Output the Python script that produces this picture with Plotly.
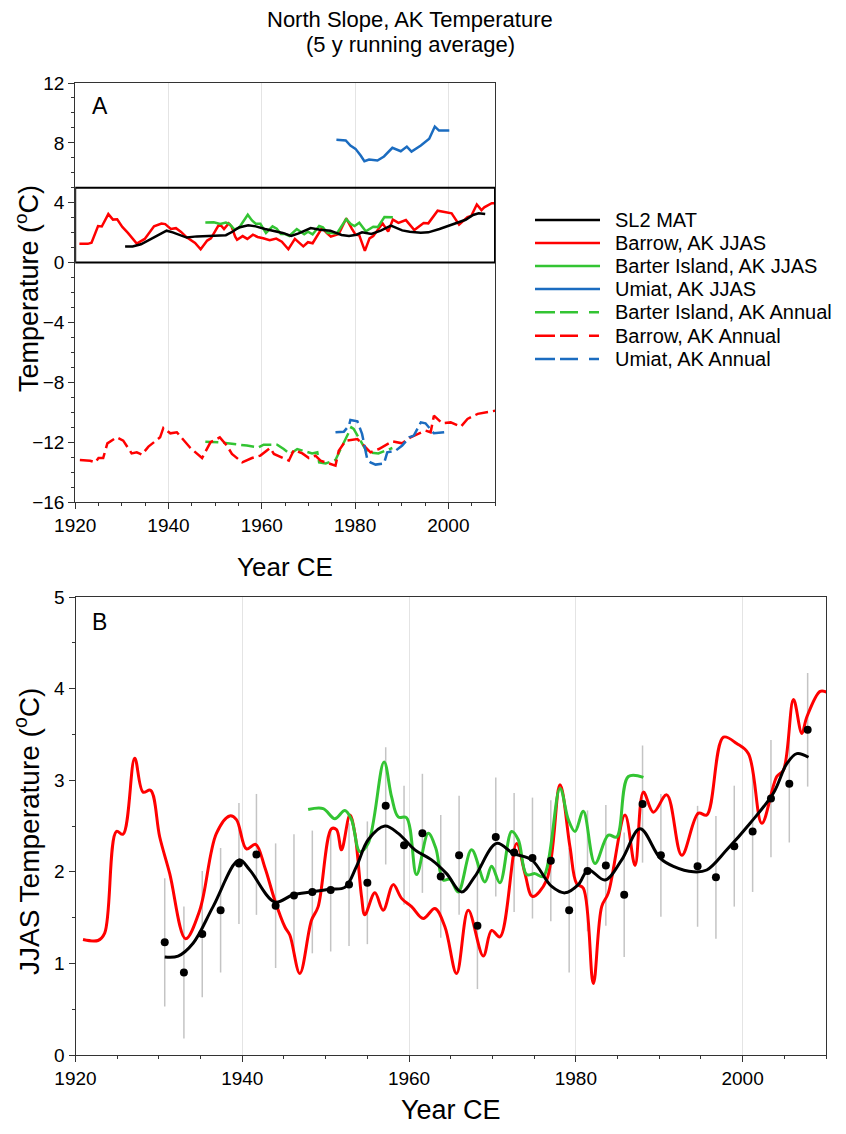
import plotly.graph_objects as go

# ---------------- data ----------------
barrow_jjas_year = [1920.9, 1922.7, 1923.5, 1924.9, 1925.7, 1927.1, 1928.1, 1929.0, 1930.1, 1931.3,
                    1933.2, 1934.9, 1936.9, 1938.5, 1939.3, 1940.5, 1941.6, 1942.7, 1943.9, 1945.1,
                    1945.7, 1946.9, 1948.3, 1949.1, 1950.7, 1951.3, 1951.9, 1952.9, 1953.5, 1954.3,
                    1954.7, 1955.9, 1956.9, 1958.1, 1959.1, 1960.3, 1961.7, 1963.1, 1964.3, 1965.7,
                    1967.1, 1968.9, 1969.9, 1970.9, 1972.9, 1973.9, 1974.8, 1976.5, 1978.1, 1979.3,
                    1980.1, 1980.9, 1982.1, 1983.1, 1983.9, 1985.9, 1987.1, 1988.1, 1989.3, 1990.9,
                    1992.7, 1994.7, 1995.7, 1997.7, 1999.3, 2000.7, 2002.3, 2004.1, 2004.9, 2006.1,
                    2007.1, 2007.7, 2009.3, 2010.1]
barrow_jjas_temp = [1.26, 1.25, 1.33, 2.44, 2.41, 3.24, 2.87, 2.89, 2.38, 1.98,
                    1.27, 1.58, 2.42, 2.61, 2.57, 2.25, 2.30, 2.05, 1.69, 1.40,
                    1.31, 0.89, 1.47, 1.62, 2.47, 2.46, 2.24, 2.62, 2.42, 1.73,
                    1.53, 1.77, 1.58, 1.86, 1.71, 1.62, 1.49, 1.60, 1.40, 0.89,
                    1.58, 1.08, 1.36, 1.29, 2.31, 1.98, 1.73, 1.91, 2.95, 2.27,
                    1.87, 1.82, 0.78, 1.62, 1.77, 2.62, 2.07, 2.87, 2.65, 2.84,
                    2.18, 2.64, 2.62, 3.47, 3.40, 3.29, 2.53, 3.04, 3.11, 3.88,
                    3.51, 3.69, 3.97, 3.96]

barter_jjas_year = [1947.9, 1949.7, 1951.1, 1952.3, 1953.1, 1954.1, 1955.1, 1957.0, 1957.9, 1958.7,
                    1959.7, 1960.9, 1962.3, 1963.2, 1964.1, 1964.9, 1965.9, 1967.5, 1969.1, 1969.9,
                    1970.9, 1972.3, 1973.1, 1974.1, 1975.1, 1976.1, 1978.1, 1979.1, 1979.9, 1980.9,
                    1982.3, 1983.9, 1984.9, 1986.3, 1988.1]
barter_jjas_temp = [2.68, 2.69, 2.58, 2.67, 2.57, 2.22, 2.31, 3.20, 2.82, 2.60,
                    2.59, 1.97, 2.42, 2.26, 1.91, 1.92, 1.78, 2.24, 1.89, 2.06,
                    1.88, 2.44, 2.35, 1.97, 1.98, 1.95, 2.91, 2.57, 2.44, 2.66,
                    2.09, 2.40, 2.38, 3.04, 3.03]

umiat_jjas_year = [1976.0, 1978.0, 1979.0, 1980.1, 1981.2, 1982.0, 1983.0, 1984.8, 1986.2, 1988.0,
                   1989.8, 1991.1, 1992.1, 1994.1, 1995.9, 1997.1, 1998.0, 2000.2]
umiat_jjas_temp = [8.20, 8.16, 7.82, 7.60, 7.15, 6.77, 6.89, 6.82, 7.09, 7.67,
                   7.44, 7.75, 7.42, 7.82, 8.27, 9.09, 8.82, 8.82]

sl2_mat_year = [1930.7, 1932.3, 1934.1, 1936.5, 1939.6, 1940.9, 1943.9, 1946.1, 1948.3, 1950.5,
                1952.3, 1953.7, 1955.1, 1957.1, 1958.7, 1960.7, 1962.7, 1964.5, 1966.3, 1967.9,
                1970.5, 1972.5, 1974.7, 1977.1, 1978.7, 1980.3, 1981.5, 1983.5, 1985.5, 1987.7,
                1990.1, 1991.7, 1994.1, 1995.7, 1998.1, 2000.9, 2003.7, 2005.3, 2006.5, 2007.9]
sl2_mat_temp = [1.07, 1.08, 1.22, 1.62, 2.13, 2.02, 1.67, 1.75, 1.78, 1.81,
                1.83, 2.06, 2.35, 2.50, 2.42, 2.24, 2.13, 1.98, 1.78, 1.95,
                2.31, 2.20, 2.13, 1.84, 1.77, 1.86, 2.02, 1.91, 2.13, 2.47,
                2.15, 2.06, 2.00, 2.02, 2.24, 2.53, 2.86, 3.18, 3.29, 3.25]

sl2_pts_year = [1930.7, 1933.0, 1935.2, 1937.4, 1939.6, 1941.7, 1944.0, 1946.2, 1948.4, 1950.6,
                1952.8, 1955.0, 1957.2, 1959.4, 1961.6, 1963.8, 1966.0, 1968.2, 1970.4, 1972.6,
                1974.8, 1977.0, 1979.2, 1981.4, 1983.6, 1985.8, 1988.0, 1990.2, 1994.6, 1996.8,
                1999.0, 2001.2, 2003.4, 2005.6, 2007.8]
sl2_pts_temp = [1.23, 0.90, 1.32, 1.58, 2.09, 2.19, 1.63, 1.74, 1.78, 1.80,
                1.86, 1.88, 2.72, 2.29, 2.42, 1.95, 2.18, 1.41, 2.38, 2.21,
                2.15, 2.12, 1.58, 2.01, 2.07, 1.75, 2.74, 2.18, 2.06, 1.94,
                2.28, 2.44, 2.80, 2.96, 3.55]
sl2_pts_err = [0.70, 0.72, 0.69, 0.68, 0.66, 0.66, 0.68, 0.67, 0.67, 0.67,
               0.67, 0.67, 0.64, 0.65, 0.65, 0.67, 0.65, 0.69, 0.65, 0.65,
               0.66, 0.66, 0.68, 0.66, 0.66, 0.68, 0.64, 0.67, 0.66, 0.67,
               0.66, 0.66, 0.64, 0.64, 0.62]

barrow_ann_year = [1921.0, 1923.2, 1924.3, 1925.0, 1926.0, 1926.9, 1928.9, 1930.3, 1932.1, 1933.2,
                   1934.3, 1935.7, 1938.2, 1938.9, 1940.4, 1941.8, 1944.7, 1947.2, 1949.0, 1951.0,
                   1952.5, 1953.6, 1955.8, 1957.9, 1959.7, 1961.8, 1962.6, 1965.8, 1966.9, 1968.7,
                   1970.1, 1971.5, 1972.6, 1975.8, 1976.5, 1978.0, 1980.5, 1982.3, 1983.3, 1985.1,
                   1988.0, 1990.1, 1991.9, 1993.4, 1995.1, 1996.2, 1996.9, 1998.7, 2000.5, 2002.7,
                   2004.1, 2006.3, 2009.1, 2010.2]
barrow_ann_temp = [-13.19, -13.24, -13.35, -13.06, -13.06, -12.08, -11.68, -11.90, -12.75, -12.68,
                   -12.83, -12.30, -11.68, -11.05, -11.41, -11.34, -12.39, -13.06, -12.01, -11.68,
                   -12.23, -12.79, -13.35, -13.06, -12.90, -12.39, -12.79, -13.24, -12.52, -12.75,
                   -13.06, -12.90, -13.24, -13.57, -12.57, -11.90, -11.79, -12.35, -12.68, -12.46,
                   -11.95, -12.08, -11.68, -11.46, -11.23, -11.34, -10.23, -10.74, -10.68, -10.96,
                   -10.45, -10.11, -9.94, -9.89]

barter_ann_year = [1947.9, 1950.7, 1956.8, 1959.3, 1960.4, 1963.3, 1964.7, 1966.1, 1967.6, 1970.8,
                   1971.9, 1972.3, 1973.7, 1975.8, 1976.9, 1979.2, 1979.7, 1981.2, 1982.6, 1985.0,
                   1988.0]
barter_ann_temp = [-11.97, -12.01, -12.23, -12.35, -12.17, -12.17, -12.46, -12.79, -12.46, -12.75,
                   -12.68, -13.35, -13.42, -13.19, -12.46, -11.01, -11.12, -11.90, -12.68, -12.75,
                   -12.39]

umiat_ann_year = [1975.8, 1977.6, 1978.7, 1979.0, 1980.5, 1981.5, 1982.6, 1983.3, 1984.4, 1986.2,
                  1986.9, 1988.7, 1990.1, 1991.6, 1992.6, 1994.1, 1995.1, 1996.9, 1999.1]
umiat_ann_temp = [-11.34, -11.30, -10.90, -10.52, -10.61, -11.45, -13.12, -13.35, -13.50, -13.42,
                  -12.68, -12.57, -12.23, -11.68, -11.56, -10.68, -10.74, -11.41, -11.34]

x_ticks = [1920, 1940, 1960, 1980, 2000]
yA_ticks = [-16, -12, -8, -4, 0, 4, 8, 12]
yB_ticks = [0, 1, 2, 3, 4, 5]

legend_names = ["SL2 MAT", "Barrow, AK JJAS", "Barter Island, AK JJAS", "Umiat, AK JJAS",
                "Barter Island, AK Annual", "Barrow, AK Annual", "Umiat, AK Annual"]

# ---------------- styles ----------------
RED = "#ff0000"
GREEN = "#33c433"
BLUE = "#1b6cc0"
BLACK = "#000000"
FONT = "Liberation Sans, Arial, sans-serif"
W, H = 846, 1134
DASH_A = "13px,5px"


def fx(p):
    return p / W


def fy(p):
    return 1 - p / H


fig = go.Figure()

# ---- Panel A ----
fig.add_trace(go.Scatter(x=barter_ann_year, y=barter_ann_temp, mode="lines", xaxis="x", yaxis="y",
                         line=dict(color=GREEN, width=2.5, dash=DASH_A), showlegend=False))
fig.add_trace(go.Scatter(x=barrow_ann_year, y=barrow_ann_temp, mode="lines", xaxis="x", yaxis="y",
                         line=dict(color=RED, width=2.5, dash=DASH_A), showlegend=False))
fig.add_trace(go.Scatter(x=umiat_ann_year, y=umiat_ann_temp, mode="lines", xaxis="x", yaxis="y",
                         line=dict(color=BLUE, width=2.5, dash=DASH_A), showlegend=False))
fig.add_trace(go.Scatter(x=barrow_jjas_year, y=barrow_jjas_temp, mode="lines", xaxis="x", yaxis="y",
                         line=dict(color=RED, width=2.5), showlegend=False))
fig.add_trace(go.Scatter(x=barter_jjas_year, y=barter_jjas_temp, mode="lines", xaxis="x", yaxis="y",
                         line=dict(color=GREEN, width=2.5), showlegend=False))
fig.add_trace(go.Scatter(x=umiat_jjas_year, y=umiat_jjas_temp, mode="lines", xaxis="x", yaxis="y",
                         line=dict(color=BLUE, width=2.5), showlegend=False))
fig.add_trace(go.Scatter(x=sl2_mat_year, y=sl2_mat_temp, mode="lines", xaxis="x", yaxis="y",
                         line=dict(color=BLACK, width=2.5), showlegend=False))

# ---- Panel B ----
fig.add_trace(go.Scatter(x=sl2_pts_year, y=sl2_pts_temp, mode="markers", xaxis="x2", yaxis="y2",
                         marker=dict(size=2, color="rgba(0,0,0,0)"),
                         error_y=dict(type="data", array=sl2_pts_err, color="#c4c4c4",
                                      thickness=1.5, width=0),
                         showlegend=False))
fig.add_trace(go.Scatter(x=barrow_jjas_year, y=barrow_jjas_temp, mode="lines", xaxis="x2", yaxis="y2",
                         line=dict(color=RED, width=3, shape="spline", smoothing=1.0), showlegend=False))
fig.add_trace(go.Scatter(x=barter_jjas_year, y=barter_jjas_temp, mode="lines", xaxis="x2", yaxis="y2",
                         line=dict(color=GREEN, width=3, shape="spline", smoothing=1.0), showlegend=False))
fig.add_trace(go.Scatter(x=sl2_mat_year, y=sl2_mat_temp, mode="lines", xaxis="x2", yaxis="y2",
                         line=dict(color=BLACK, width=3, shape="spline", smoothing=1.0), showlegend=False))
fig.add_trace(go.Scatter(x=sl2_pts_year, y=sl2_pts_temp, mode="markers", xaxis="x2", yaxis="y2",
                         marker=dict(size=8, color=BLACK), showlegend=False))

axis_common = dict(showline=True, linecolor="#333333", linewidth=1, mirror=True,
                   ticks="outside", ticklen=6, tickwidth=1, tickcolor="#333333",
                   tickfont=dict(family=FONT, size=19, color="#000"), zeroline=False)

fig.update_layout(
    width=W, height=H, margin=dict(l=0, r=0, t=0, b=0),
    paper_bgcolor="white", plot_bgcolor="white", showlegend=False,
    font=dict(family=FONT, color="#000"),
    xaxis=dict(domain=[fx(75.2), fx(495)], range=[1920, 2010], anchor="y",
               tickvals=x_ticks, showgrid=True, gridcolor="#e4e4e4", gridwidth=1,
               minor=dict(ticks="outside", ticklen=3, dtick=5, tick0=1920, tickcolor="#333333", showgrid=False),
               automargin=False, **axis_common),
    yaxis=dict(domain=[fy(502), fy(83)], range=[-16, 12], anchor="x",
               tickvals=yA_ticks, showgrid=False,
               minor=dict(ticks="outside", ticklen=3, dtick=1, tick0=0, tickcolor="#333333", showgrid=False),
               automargin=False, **axis_common),
    xaxis2=dict(domain=[fx(75.5), fx(826)], range=[1920, 2010], anchor="y2",
                tickvals=x_ticks, showgrid=True, gridcolor="#e4e4e4", gridwidth=1,
                minor=dict(ticks="outside", ticklen=3, dtick=5, tick0=1920, tickcolor="#333333", showgrid=False),
                automargin=False, **axis_common),
    yaxis2=dict(domain=[fy(1055), fy(597)], range=[0, 5], anchor="x2",
                tickvals=yB_ticks, showgrid=False,
                minor=dict(ticks="outside", ticklen=3, dtick=0.5, tick0=0, tickcolor="#333333", showgrid=False),
                automargin=False, **axis_common),
)

# box around the JJAS range in panel A
fig.add_shape(type="rect", xref="x", yref="y", x0=1920, x1=2010, y0=0, y1=5,
              line=dict(color=BLACK, width=2))

annotations = [
    dict(text="North Slope, AK Temperature", x=fx(410), y=fy(19), font=dict(size=22)),
    dict(text="(5 y running average)", x=fx(410), y=fy(45), font=dict(size=22)),
    dict(text="A", x=fx(100), y=fy(106), font=dict(size=23)),
    dict(text="B", x=fx(99), y=fy(622), font=dict(size=23)),
    dict(text="Year CE", x=fx(285), y=fy(567), font=dict(size=26)),
    dict(text="Year CE", x=fx(451), y=fy(1110), font=dict(size=27)),
    dict(text="Temperature (<sup>o</sup>C)", x=fx(27), y=fy(289), textangle=-90, font=dict(size=27)),
    dict(text="JJAS Temperature (<sup>o</sup>C)", x=fx(27), y=fy(832), textangle=-90, font=dict(size=28)),
]
for a in annotations:
    a.update(xref="paper", yref="paper", showarrow=False, xanchor="center", yanchor="middle")
    a["font"].update(family=FONT, color="#000")
    fig.add_annotation(**a)

# custom legend
legend_colors = [BLACK, RED, GREEN, BLUE, GREEN, RED, BLUE]
legend_dash = ["solid", "solid", "solid", "solid", "20px,5px,18px,11px,10px", "20px,5px,18px,11px,10px",
               "20px,5px,18px,11px,10px"]
legend_rows = [220, 243, 266, 289, 312.3, 335.7, 359]
for name, col, dsh, ry in zip(legend_names, legend_colors, legend_dash, legend_rows):
    fig.add_shape(type="line", xref="paper", yref="paper", x0=fx(535), x1=fx(600), y0=fy(ry), y1=fy(ry),
                  line=dict(color=col, width=2.5, dash=dsh))
    fig.add_annotation(text=name, xref="paper", yref="paper", x=fx(613), y=fy(ry), xanchor="left",
                       yanchor="middle", showarrow=False, font=dict(family=FONT, size=20, color="#000"))

fig.write_html("out.html")
